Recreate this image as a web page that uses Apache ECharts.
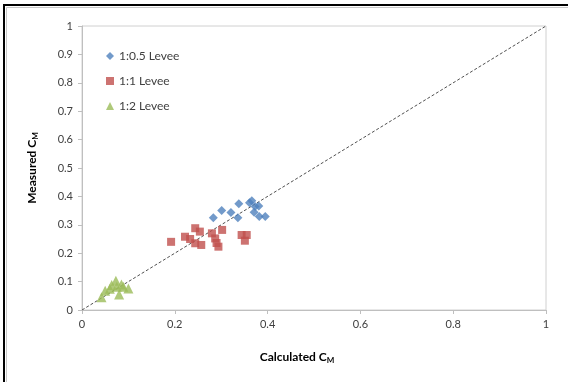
<!DOCTYPE html>
<html>
<head>
<meta charset="utf-8">
<script src="https://cdn.jsdelivr.net/npm/echarts@6/dist/echarts.min.js"></script>
<style>
html,body{margin:0;padding:0;background:#fff;}
#c{width:568px;height:382px;}
</style>
</head>
<body>
<div id="c"></div>
<script>
// Data: [calculated C_M, measured C_M]
var levee05 = [
  [0.283, 0.325], [0.301, 0.350], [0.321, 0.343], [0.338, 0.374],
  [0.336, 0.325], [0.361, 0.378], [0.366, 0.385], [0.373, 0.364],
  [0.381, 0.366], [0.371, 0.344], [0.382, 0.329], [0.395, 0.329]
];
var levee1 = [
  [0.192, 0.240], [0.222, 0.258], [0.233, 0.250], [0.244, 0.288],
  [0.254, 0.276], [0.244, 0.235], [0.257, 0.229], [0.280, 0.270],
  [0.287, 0.252], [0.302, 0.282], [0.294, 0.223], [0.290, 0.236],
  [0.344, 0.264], [0.355, 0.264], [0.351, 0.244]
];
var levee2 = [
  [0.042, 0.045], [0.050, 0.068], [0.060, 0.075], [0.064, 0.088],
  [0.073, 0.103], [0.075, 0.082], [0.080, 0.055], [0.089, 0.082],
  [0.100, 0.076], [0.085, 0.090]
];
var refLine = [[0, 0], [1, 1]];
var seriesNames = ['1:0.5 Levee', '1:1 Levee', '1:2 Levee'];
var axisMin = 0, axisMax = 1, axisStepX = 0.2, axisStepY = 0.1;

var FONT = 'Lato, "Liberation Sans", sans-serif';
var chart = echarts.init(document.getElementById('c'));
chart.setOption({
  animation: false,
  backgroundColor: '#fff',
  textStyle: { fontFamily: FONT },
  graphic: [
    { type: 'rect', shape: { x: 4, y: 5, width: 600, height: 420 },
      style: { fill: 'none', stroke: '#000', lineWidth: 2 }, z: 100 },
    { type: 'rect', shape: { x: 6.5, y: 7.5, width: 600, height: 420 },
      style: { fill: 'none', stroke: '#c8c8c8', lineWidth: 1 }, z: 100 }
  ],
  grid: { left: 82, top: 26, width: 464, height: 284, show: true,
    borderColor: '#d0d0d0', borderWidth: 1, backgroundColor: 'transparent' },
  legend: {
    orient: 'vertical', left: 101, top: 45, itemGap: 13,
    itemWidth: 8, itemHeight: 8,
    textStyle: { fontFamily: FONT, fontSize: 12, color: '#404040' },
    data: [
      { name: seriesNames[0], icon: 'diamond' },
      { name: seriesNames[1], icon: 'rect' },
      { name: seriesNames[2], icon: 'triangle' }
    ]
  },
  xAxis: {
    type: 'value', min: axisMin, max: axisMax, interval: axisStepX,
    axisLine: { show: true, lineStyle: { color: '#bfbfbf' } },
    axisTick: { show: true, length: 4, lineStyle: { color: '#bfbfbf' } },
    splitLine: { show: false },
    axisLabel: { color: '#404040', fontSize: 11, margin: 9, fontFamily: FONT },
    name: '{a|Calculated C}{b|M}',
    nameLocation: 'middle', nameGap: 40,
    nameTextStyle: {
      padding: [0, 34, 0, 0],
      rich: {
        a: { fontFamily: FONT, fontSize: 12, fontWeight: 'bold', color: '#000' },
        b: { fontFamily: FONT, fontSize: 8, fontWeight: 'bold', color: '#000', padding: [6, 0, 0, 0] }
      }
    }
  },
  yAxis: {
    type: 'value', min: axisMin, max: axisMax, interval: axisStepY,
    axisLine: { show: true, lineStyle: { color: '#bfbfbf' } },
    axisTick: { show: true, length: 4, lineStyle: { color: '#bfbfbf' } },
    splitLine: { show: false },
    axisLabel: { color: '#404040', fontSize: 11, margin: 9, fontFamily: FONT },
    name: '{a|Measured C}{b|M}',
    nameLocation: 'middle', nameGap: 43, nameRotate: 90,
    nameTextStyle: {
      rich: {
        a: { fontFamily: FONT, fontSize: 12, fontWeight: 'bold', color: '#000' },
        b: { fontFamily: FONT, fontSize: 8, fontWeight: 'bold', color: '#000', padding: [6, 0, 0, 0] }
      }
    }
  },
  series: [
    { type: 'line', data: refLine, symbol: 'none', silent: true,
      lineStyle: { color: '#505050', width: 1, type: [3, 2] }, z: 1 },
    { name: seriesNames[0], type: 'scatter', data: levee05, symbol: 'diamond',
      symbolSize: 9, itemStyle: { color: '#4F81BD' }, z: 3 },
    { name: seriesNames[1], type: 'scatter', data: levee1, symbol: 'rect',
      symbolSize: 8, itemStyle: { color: '#C0504D' }, z: 3 },
    { name: seriesNames[2], type: 'scatter', data: levee2, symbol: 'triangle',
      symbolSize: 10, itemStyle: { color: '#9BBB59' }, z: 3 }
  ]
});
</script>
</body>
</html>
